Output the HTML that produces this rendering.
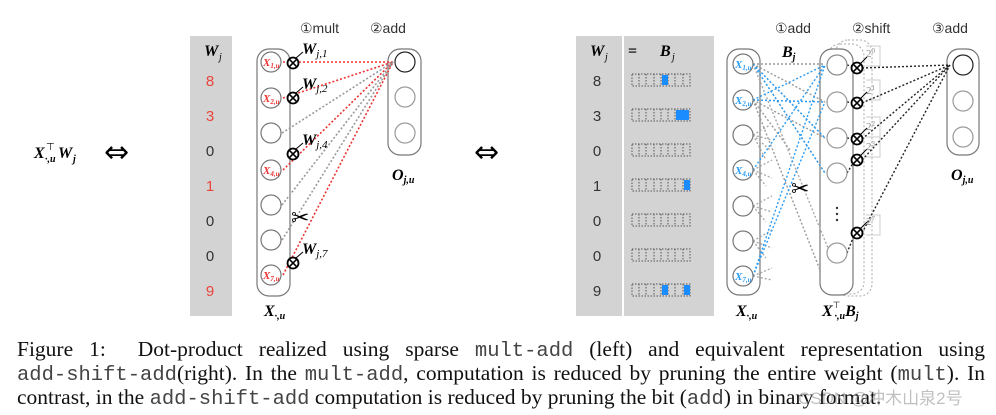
<!DOCTYPE html>
<html><head><meta charset="utf-8"><style>
html,body{margin:0;padding:0;background:#fff;}
body{width:996px;height:415px;position:relative;overflow:hidden;font-family:"Liberation Serif",serif;}
.cap{position:absolute;left:17px;width:968px;font-size:21.5px;line-height:24px;color:#111;text-align:justify;text-align-last:justify;white-space:nowrap;}
.cap.last{text-align-last:left;}
.m{font-family:"Liberation Mono",monospace;font-size:20.5px;color:#444;}
.wm{position:absolute;left:798px;top:384px;font-family:"Liberation Sans","Noto Sans CJK SC",sans-serif;font-size:17px;color:rgba(150,150,150,0.6);}
</style></head><body>
<svg width="996" height="330" style="position:absolute;left:0;top:0" font-family="Liberation Serif,serif">
<defs>
<g id="ot"><circle r="5.5" fill="#fff" stroke="#000" stroke-width="1.8"/><path d="M-3.8,-3.8L3.8,3.8M-3.8,3.8L3.8,-3.8" stroke="#000" stroke-width="1.6"/></g>
</defs>
<text x="34" y="158" font-size="16" font-weight="bold" font-style="italic">X</text>
<text x="46" y="150" font-size="10">⊤</text>
<text x="45" y="162" font-size="10" font-style="italic" font-weight="bold">·,u</text>
<text x="58" y="158" font-size="16" font-weight="bold" font-style="italic">W</text>
<text x="73" y="162" font-size="10" font-style="italic" font-weight="bold">j</text>
<text x="104" y="162" font-size="30" font-family="DejaVu Sans,sans-serif">⇔</text>
<text x="474" y="162" font-size="30" font-family="DejaVu Sans,sans-serif">⇔</text>

<rect x="190" y="36" width="42" height="280" fill="#d3d3d3"/>
<text x="204" y="56" font-size="16" font-weight="bold" font-style="italic">W</text><text x="219" y="60" font-size="10" font-style="italic">j</text>
<g font-family="Liberation Sans,sans-serif" font-size="15" text-anchor="middle">
<text x="210" y="86" fill="#e8453c">8</text><text x="210" y="121" fill="#e8453c">3</text><text x="210" y="156" fill="#333">0</text><text x="210" y="191" fill="#e8453c">1</text><text x="210" y="226" fill="#333">0</text><text x="210" y="261" fill="#333">0</text><text x="210" y="296" fill="#e8453c">9</text>
</g>
<text x="300" y="33" font-size="14" font-family="Liberation Sans,sans-serif" fill="#333">①mult</text>
<text x="370" y="33" font-size="14" font-family="Liberation Sans,sans-serif" fill="#333">②add</text>
<rect x="257" y="49" width="33" height="247" rx="12" fill="none" stroke="#777" stroke-width="1.2"/>
<rect x="388" y="49" width="33" height="106" rx="12" fill="none" stroke="#777" stroke-width="1.2"/>
<g stroke-dasharray="2,2" stroke-width="1.6" fill="none">
<path d="M283,62L393,62M283,98L393,62M283,170L393,62M283,275L393,62" stroke="#e33"/>
<path d="M282,133L393,62M282,205L393,62M282,240L393,62" stroke="#999"/>
</g>
<g fill="#fff" stroke="#777" stroke-width="1.2">
<circle cx="271" cy="62" r="10"/><circle cx="271" cy="98" r="10"/><circle cx="271" cy="133" r="10"/><circle cx="271" cy="170" r="10"/><circle cx="271" cy="205" r="10"/><circle cx="271" cy="240" r="10"/><circle cx="271" cy="275" r="10"/>
<circle cx="405" cy="62" r="10" stroke="#222"/><circle cx="405" cy="97" r="10" stroke="#999"/><circle cx="405" cy="133" r="10" stroke="#999"/>
</g>
<g fill="#e33" font-size="11" font-weight="bold" font-style="italic">
<text x="263" y="66">X<tspan font-size="7" dy="2">1,u</tspan></text>
<text x="263" y="102">X<tspan font-size="7" dy="2">2,u</tspan></text>
<text x="263" y="174">X<tspan font-size="7" dy="2">4,u</tspan></text>
<text x="263" y="279">X<tspan font-size="7" dy="2">7,u</tspan></text>
</g>
<use href="#ot" x="293" y="63"/><use href="#ot" x="293" y="98"/><use href="#ot" x="293" y="154"/><use href="#ot" x="293" y="263"/>
<g stroke="#000" stroke-width="1"><path d="M296,58L303,52M296,93L303,87M296,149L303,143M296,258L303,252"/></g>
<g font-size="16" font-weight="bold" font-style="italic">
<text x="302" y="54">W<tspan font-size="11" dy="3" font-weight="normal">j,1</tspan></text>
<text x="302" y="89">W<tspan font-size="11" dy="3" font-weight="normal">j,2</tspan></text>
<text x="302" y="145">W<tspan font-size="11" dy="3" font-weight="normal">j,4</tspan></text>
<text x="302" y="254">W<tspan font-size="11" dy="3" font-weight="normal">j,7</tspan></text>
</g>
<text x="291" y="225" font-size="22" font-family="DejaVu Sans,sans-serif">✂</text>
<text x="264" y="316" font-size="16" font-weight="bold" font-style="italic">X<tspan font-size="10" dy="3">·,u</tspan></text>
<text x="392" y="180" font-size="16" font-weight="bold" font-style="italic">O<tspan font-size="10" dy="3">j,u</tspan></text>

<rect x="576" y="36" width="48" height="280" fill="#d3d3d3"/>
<rect x="622" y="36" width="2" height="280" fill="#fff"/>
<rect x="624" y="36" width="90" height="280" fill="#d3d3d3"/>
<text x="590" y="56" font-size="16" font-weight="bold" font-style="italic">W</text><text x="605" y="60" font-size="10" font-style="italic">j</text>
<text x="628" y="56" font-size="16" font-weight="bold">=</text>
<text x="660" y="56" font-size="16" font-weight="bold" font-style="italic">B</text><text x="672" y="60" font-size="10" font-style="italic">j</text>
<g font-family="Liberation Sans,sans-serif" font-size="15" text-anchor="middle" fill="#333">
<text x="597" y="86">8</text><text x="597" y="121">3</text><text x="597" y="156">0</text><text x="597" y="191">1</text><text x="597" y="226">0</text><text x="597" y="261">0</text><text x="597" y="296">9</text>
</g>
<g fill="none" stroke="#555" stroke-width="1" stroke-dasharray="1.5,1.5">
<path d="M632,74h58v12h-58zM639,74v12M646,74v12M654,74v12M661,74v12M668,74v12M675,74v12M683,74v12"/>
<path d="M632,109h58v12h-58zM639,109v12M646,109v12M654,109v12M661,109v12M668,109v12M675,109v12M683,109v12"/>
<path d="M632,144h58v12h-58zM639,144v12M646,144v12M654,144v12M661,144v12M668,144v12M675,144v12M683,144v12"/>
<path d="M632,179h58v12h-58zM639,179v12M646,179v12M654,179v12M661,179v12M668,179v12M675,179v12M683,179v12"/>
<path d="M632,214h58v12h-58zM639,214v12M646,214v12M654,214v12M661,214v12M668,214v12M675,214v12M683,214v12"/>
<path d="M632,249h58v12h-58zM639,249v12M646,249v12M654,249v12M661,249v12M668,249v12M675,249v12M683,249v12"/>
<path d="M632,284h58v12h-58zM639,284v12M646,284v12M654,284v12M661,284v12M668,284v12M675,284v12M683,284v12"/>
</g>
<g fill="#1a8cff">
<rect x="662" y="75" width="6" height="10"/>
<rect x="676" y="110" width="13" height="10"/>
<rect x="684" y="180" width="6" height="10"/>
<rect x="662" y="285" width="6" height="10"/><rect x="684" y="285" width="6" height="10"/>
</g>
<text x="775" y="33" font-size="14" font-family="Liberation Sans,sans-serif" fill="#333">①add</text>
<text x="852" y="33" font-size="14" font-family="Liberation Sans,sans-serif" fill="#333">②shift</text>
<text x="932" y="33" font-size="14" font-family="Liberation Sans,sans-serif" fill="#333">③add</text>
<text x="782" y="57" font-size="16" font-weight="bold" font-style="italic">B<tspan font-size="10" dy="3">j</tspan></text>
<g fill="none" stroke="#aaa" stroke-width="1" stroke-dasharray="2,2">
<rect x="828" y="44" width="36" height="250" rx="12"/>
<rect x="836" y="40" width="36" height="256" rx="12"/>
</g>
<g fill="none" stroke="#ccc" stroke-width="1">
<path d="M866,46h14v20h-14M866,80h14v20h-14M866,117h14v20h-14M866,137h14v20h-14M866,215h14v20h-14"/>
</g>
<rect x="727" y="49" width="33" height="246" rx="12" fill="none" stroke="#777" stroke-width="1.2"/>
<rect x="820" y="49" width="33" height="246" rx="12" fill="#fff" stroke="#777" stroke-width="1.2"/>
<rect x="947" y="49" width="32" height="106" rx="12" fill="none" stroke="#777" stroke-width="1.2"/>
<g stroke-dasharray="2,2" stroke-width="1.4" fill="none">
<path d="M753,64L825,64M753,64L825,138M753,64L825,102M753,64L825,173M753,64L790,120M753,100L825,102M753,100L825,138M753,100L820,270M753,100L790,150" stroke="#999"/>
<path d="M753,135L770,125M753,135L772,140M753,135L770,150M753,135L766,160M753,170L772,160M753,170L772,178M753,170L766,186M753,206L772,196M753,206L772,212M753,206L766,222M753,241L772,230M753,241L772,248M753,241L766,258M753,276L772,268M753,276L772,280M753,64L830,253" stroke="#aaa"/>
<path d="M753,64L825,173M753,100L825,102M753,100L825,65M753,170L825,65M753,276L825,65M753,276L825,102M753,64L825,138" stroke="#2a9df4"/>
<path d="M862,68L950,65M862,103L950,65M862,139L950,65M862,160L950,65M862,233L950,65" stroke="#222"/>
<path d="M847,65L855,67M847,102L855,103M847,138L855,139M847,173L855,160M847,253L855,233" stroke="#222"/>
</g>
<g fill="#fff" stroke="#777" stroke-width="1.2">
<circle cx="743" cy="64" r="10"/><circle cx="743" cy="100" r="10"/><circle cx="743" cy="135" r="10"/><circle cx="743" cy="170" r="10"/><circle cx="743" cy="206" r="10"/><circle cx="743" cy="241" r="10"/><circle cx="743" cy="276" r="10"/>
<circle cx="837" cy="65" r="10" stroke="#888"/><circle cx="837" cy="102" r="10" stroke="#999"/><circle cx="837" cy="138" r="10" stroke="#999"/><circle cx="837" cy="173" r="10" stroke="#999"/><circle cx="837" cy="253" r="10" stroke="#999"/>
<circle cx="963" cy="65" r="10" stroke="#222"/><circle cx="963" cy="101" r="10" stroke="#999"/><circle cx="963" cy="137" r="10" stroke="#999"/>
</g>
<g fill="#333"><circle cx="837" cy="208" r="1.2"/><circle cx="837" cy="214" r="1.2"/><circle cx="837" cy="220" r="1.2"/></g>
<g fill="#2a9df4" font-size="11" font-weight="bold" font-style="italic">
<text x="735" y="68">X<tspan font-size="7" dy="2">1,u</tspan></text>
<text x="735" y="104">X<tspan font-size="7" dy="2">2,u</tspan></text>
<text x="735" y="174">X<tspan font-size="7" dy="2">4,u</tspan></text>
<text x="735" y="280">X<tspan font-size="7" dy="2">7,u</tspan></text>
</g>
<use href="#ot" x="857" y="68"/><use href="#ot" x="857" y="103"/><use href="#ot" x="857" y="139"/><use href="#ot" x="857" y="160"/><use href="#ot" x="857" y="233"/>
<g stroke="#000" stroke-width="1"><path d="M860,64L867,57M860,99L867,92M860,135L867,128M860,156L867,149M860,229L867,222"/></g>
<g font-size="11" fill="#888">
<text x="866" y="57">2<tspan font-size="7" dy="-4">0</tspan></text>
<text x="866" y="94">2<tspan font-size="7" dy="-4">1</tspan></text>
<text x="866" y="130">2<tspan font-size="7" dy="-4">2</tspan></text>
<text x="866" y="150">2<tspan font-size="7" dy="-4">3</tspan></text>
<text x="866" y="225">2<tspan font-size="7" dy="-4">7</tspan></text>
</g>
<text x="791" y="196" font-size="22" font-family="DejaVu Sans,sans-serif">✂</text>
<text x="736" y="316" font-size="16" font-weight="bold" font-style="italic">X<tspan font-size="10" dy="3">·,u</tspan></text>
<text x="822" y="316" font-size="16" font-weight="bold" font-style="italic">X<tspan font-size="9" dy="-8" font-weight="normal" font-style="normal">⊤</tspan><tspan font-size="10" dx="-6" dy="11">·,u</tspan><tspan dy="-3">B</tspan><tspan font-size="10" dy="3">j</tspan></text>
<text x="951" y="180" font-size="16" font-weight="bold" font-style="italic">O<tspan font-size="10" dy="3">j,u</tspan></text>
</svg>
<div class="cap" style="top:337px">Figure 1:&nbsp; Dot-product realized using sparse <span class="m">mult-add</span> (left) and equivalent representation using</div>
<div class="cap" style="top:361px"><span class="m">add-shift-add</span>(right). In the <span class="m">mult-add</span>, computation is reduced by pruning the entire weight (<span class="m">mult</span>). In</div>
<div class="cap last" style="top:385px">contrast, in the <span class="m">add-shift-add</span> computation is reduced by pruning the bit (<span class="m">add</span>) in binary format.</div>
<div class="wm">CSDN @冲木山泉2号</div>
</body></html>
